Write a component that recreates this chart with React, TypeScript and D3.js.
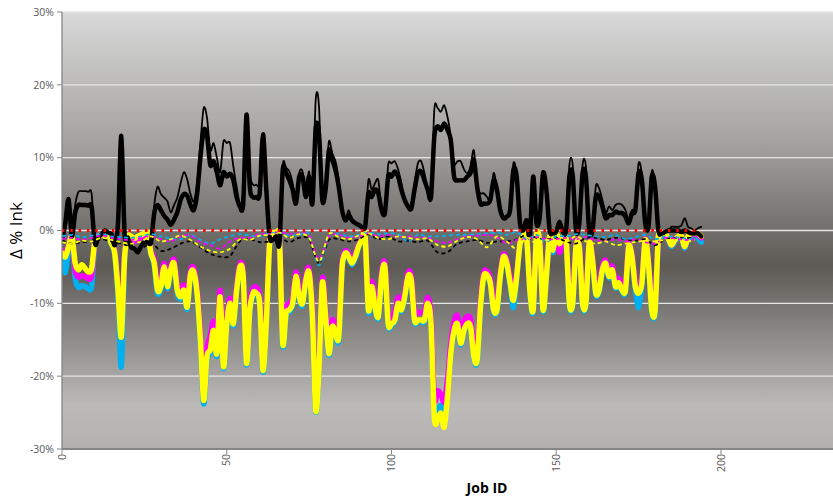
import * as d3 from 'd3'

// Δ % ink per job (values in %)
const blackThick = [
  -1.5, 1, 4.3, -0.8, 2.5, 3.5, 3.5, 3.5, 3.4, 3.2,
  -1.8, -1, -0.5, 0, -0.3, -0.5, -2, 1, 13, -0.5,
  -1, -2.3, -2.5, -3, -2.2, -1.6, -1.6, -1.6, 2.4, 3.5,
  2.8, 2, 1.5, 0.8, 1.5, 2.5, 4.2, 5, 4.8, 3.5,
  2.8, 5, 10, 13.8, 13, 9, 9.5, 8, 6.2, 8,
  7.4, 7.8, 6.9, 4.6, 3.3, 3.7, 15.9, 6, 4.6, 4.6,
  5.1, 13.2, 5.6, -0.8, -1.3, -0.8, -1.8, 8.3, 7.9, 6.9,
  5.6, 3.7, 7.4, 7.4, 4.6, 7.4, 3.7, 14, 13.3, 4.2,
  5.6, 11, 9.7, 8.3, 6, 2.8, 1.4, 2.1, 1.4, 1,
  0.8, 0.5, 0.5, 5.1, 4.6, 5.6, 5.1, 2.8, 2.4, 7.4,
  7.4, 8.1, 7.4, 5.6, 4.2, 3.3, 3, 5.6, 7.9, 8.1,
  6.9, 5.6, 4.6, 12.9, 14.3, 13.8, 14.7, 13.8, 12.4, 7.4,
  6.9, 6.9, 6.9, 7.4, 7.9, 9.7, 6, 3.7, 3.7, 3.7,
  4.2, 6.9, 5.6, 2.8, 1.7, 1.9, 2.8, 8.3, 7.4, 1,
  0, 1.4, -0.8, 7.4, 1, 1.9, 7.9, 5.6, 0, -0.4,
  -0.2, 1.2, -0.2, 0, 7.4, 7.6, 0, 1, 7.9, 7.4,
  0, 0, 4.6, 4.6, 3.3, 1.7, 2.1, 2.1, 2.6, 2.4,
  2.4, 1.9, 1, 2.4, 2.8, 7.9, 6.9, 1, 0.5, 7.4,
  6, 0, -0.4, -0.2, 0, 0, 0, 0, -0.2, 0,
  -0.2, -0.4, -0.4, -0.4, -0.8,
]

const blackThin = [
  -1.5, 1, 4.5, -0.8, 3.5, 5.3, 5.4, 5.4, 5.3, 5,
  -1.8, -1, -0.5, 0, -0.3, -0.5, -2, 1, 13, -0.5,
  -1, -2.3, -2.5, -3, -2.2, -1.6, -1.6, -1.6, 3.5, 6,
  5, 4.5, 4, 2.5, 3.5, 4.5, 6.5, 8, 7, 5,
  4, 6.5, 12, 16.8, 15.5, 11, 12, 10, 8, 12.2,
  12, 12, 8.8, 6, 3.7, 5.5, 15.9, 7.9, 6.3, 6.3,
  6.5, 13.2, 5.6, -0.8, -1.3, -0.8, -1.8, 8.9, 8.6, 8.1,
  6.5, 3.7, 7.9, 8.1, 5.1, 8.1, 4.2, 17.9, 17, 4.2,
  6, 12.2, 10.6, 9.5, 6.9, 2.8, 1.4, 2.8, 1.4, 1,
  0.8, 0.5, 0.5, 6.9, 5.6, 6.5, 6.9, 2.8, 2.4, 9,
  9.2, 9.5, 8.4, 6.5, 4.2, 3.3, 3, 6.5, 9.2, 9.5,
  7.9, 5.6, 4.6, 16.6, 16.8, 16.3, 17.2, 15.6, 12.9, 9.2,
  9.5, 9.5, 8.4, 7.9, 8.8, 11, 6, 5.1, 5.1, 4.6,
  4.2, 7.9, 5.6, 2.8, 1.7, 1.9, 2.8, 9.2, 7.4, 1,
  0, 1.4, -0.8, 7.4, 1, 1.9, 7.9, 5.6, 0, -0.4,
  -0.2, 1.2, -0.2, 0, 9, 9, 0, 1, 9, 8.8,
  0, 0, 6, 5.8, 4.2, 2.4, 3.3, 2.8, 3.5, 3.7,
  3.5, 2.8, 1.4, 2.8, 3.3, 9.2, 7.6, 1, 0.5, 8.1,
  6, 0, -0.4, -0.2, 0, 0.5, 0.5, 0.5, 0.7, 1.7,
  0.5, 0.3, 0, 0.3, 0.5,
]

const yellowThick = [
  -3.1, -3.6, -2.2, -0.8, -4.5, -5.4, -4.7, -5.2, -5.7, -5.2,
  -1.3, -0.8, -0.6, -0.4, -0.6, -1.8, -3.1, -8.2, -14.6, -3.6,
  -0.8, -0.8, -1.1, -0.8, -0.6, -0.4, -0.4, -3.1, -4.5, -8.2,
  -7.7, -5, -7.7, -5.4, -4.5, -8.2, -9.1, -8.2, -10.5, -6,
  -5.7, -8.6, -15, -23.3, -17.3, -16.4, -13.7, -16.9, -9.1, -18.7,
  -12.8, -10, -12.8, -8.2, -5, -6.3, -18.2, -10.9, -8.6, -8.6,
  -10, -19.2, -12.8, -1.8, -0.4, -0.4, -1.3, -15.5, -11.4, -10.9,
  -10, -6.3, -9.1, -10, -6.8, -5.8, -11.8, -24.7, -19, -7.2,
  -11.8, -16.9, -13.2, -14.1, -14.6, -5, -3.1, -3.6, -4.5, -3.6,
  -2.2, -1.3, -0.8, -10.9, -7.7, -10.5, -11.8, -6.3, -5, -12.8,
  -12.8, -12.3, -10, -10.9, -9.1, -6.3, -6.8, -12.3, -12.3, -12.3,
  -12.3, -10, -12.8, -25.6, -26, -25.1, -27, -22.8, -16.9, -13.7,
  -12.8, -15.5, -13.7, -12.8, -13.2, -17.3, -17.8, -10.5, -6.3, -6.1,
  -7.2, -10.9, -10.9, -6.3, -3.6, -4.5, -7.2, -9.6, -6.3, -1.8,
  -0.8, -0.8, -8.2, -10.9, -0.8, -1.8, -10.9, -6.3, -0.8, -2.7,
  -0.4, -1.8, -0.8, -1.3, -10, -10, -2.2, -2.2, -10, -10,
  -1.8, -4, -8.6, -8.2, -5.4, -4.5, -6.3, -5.4, -7.7, -7.2,
  -8.2, -8.2, -2.2, -3.6, -7.7, -8.6, -7.2, -1.3, -4.5, -10.9,
  -11, -0.8, -0.6, -0.4, -1.1, -2, -1.3, -0.8, -0.8, -2.2,
  -0.8, -0.4, -0.4, -0.4, -0.8,
]

const magentaThick = [
  -2.8, -3.3, -2, -0.8, -5.5, -6.4, -6.2, -6.3, -6.6, -6.2,
  -1.2, -0.8, -0.6, -0.4, -0.6, -1.6, -2.8, -7.5, -13.8, -3.3,
  -0.8, -1, -1.5, -1.3, -1, -0.8, -0.6, -2.8, -4, -7.5,
  -7, -4.5, -7, -5, -4, -7.5, -8.4, -7.5, -9.8, -5.5,
  -5.2, -8, -14, -22.5, -16, -14.5, -12.5, -15.5, -8.2, -17.5,
  -12, -9.3, -12, -7.5, -4.6, -5.8, -17.5, -10, -8, -7.8,
  -9.3, -18.5, -12, -1.6, -0.4, -0.4, -1.2, -14.5, -10.6, -10,
  -9.2, -5.7, -8.3, -9.2, -6.2, -5.3, -11, -23.8, -18, -6.6,
  -11, -15.5, -12.3, -13, -13.5, -4.5, -2.8, -3.2, -4, -3.2,
  -2, -1.2, -0.8, -10, -7, -9.5, -10.8, -5.7, -4.5, -11.8,
  -11.8, -11.2, -9.2, -10, -8.4, -5.8, -6.2, -11.3, -11.2, -11.3,
  -11.2, -9.2, -11.8, -23, -22, -22.5, -23.5, -20.5, -15.5, -12.5,
  -11.7, -14.2, -12.5, -11.8, -12.2, -16, -16.5, -9.6, -5.8, -5.6,
  -6.6, -10, -10, -5.8, -3.3, -4.1, -6.6, -8.8, -5.8, -1.7,
  -0.8, -0.8, -7.5, -10, -0.8, -1.7, -10, -5.8, -0.8, -2.5,
  -0.5, -3, -0.8, -1.3, -9, -9.2, -2, -2, -9, -9.2,
  -1.7, -3.7, -7.8, -7.4, -4.9, -4.1, -5.7, -4.9, -7, -6.6,
  -7.5, -7.5, -2, -3.3, -7, -7.8, -6.6, -1.2, -4.1, -10,
  -10, -0.8, -0.6, -0.4, -1.2, -2, -1.3, -0.9, -0.9, -2.2,
  -0.9, -0.5, -0.5, -0.6, -1,
]

const cyanThick = [
  -3.3, -5.8, -2.5, -0.9, -6.5, -7.8, -7.6, -7.7, -8, -7.6,
  -1.4, -0.9, -0.6, -0.4, -0.6, -1.9, -3.3, -9, -18.7, -4,
  -0.9, -0.9, -1.2, -0.9, -0.7, -0.5, -0.5, -3.2, -4.8, -8.6,
  -8, -5.2, -8, -5.6, -4.7, -8.6, -9.4, -8.5, -10.8, -6.2,
  -5.9, -8.9, -15.5, -23.8, -17.8, -16.8, -14, -17.2, -9.4, -18.9,
  -13.1, -10.3, -13.1, -8.5, -5.2, -6.5, -18.4, -11.2, -8.9, -8.9,
  -10.3, -19.4, -13, -1.9, -0.5, -0.5, -1.4, -15.7, -11.7, -11.2,
  -10.3, -6.5, -9.4, -10.3, -7, -6, -12.2, -24.8, -19.2, -7.5,
  -12.1, -17.1, -13.5, -14.4, -14.9, -5.2, -3.3, -3.8, -4.7, -3.8,
  -2.3, -1.4, -0.9, -11.2, -8, -10.8, -12, -6.5, -5.2, -13,
  -13, -12.5, -10.2, -11.1, -9.3, -6.5, -7, -12.5, -12.5, -12.5,
  -12.5, -10.2, -13, -24.5, -24.5, -24, -25, -22, -17.1, -13.9,
  -13, -15.7, -13.9, -13, -13.4, -17.5, -18, -10.7, -6.5, -6.3,
  -7.4, -11.1, -11.1, -6.5, -3.8, -4.7, -7.5, -10.6, -6.5, -1.9,
  -0.9, -0.9, -8.4, -11.1, -0.9, -1.9, -11.1, -6.5, -0.9, -3,
  -0.6, -2, -0.9, -1.4, -10.2, -10.2, -2.3, -2.3, -10.2, -10.2,
  -2, -4.2, -8.8, -8.4, -5.6, -4.7, -6.5, -5.6, -7.9, -7.4,
  -8.4, -8.4, -2.4, -3.8, -8, -10.6, -7.4, -1.4, -4.7, -11.1,
  -11.2, -1, -0.8, -0.6, -1.3, -2.2, -1.5, -1, -1, -2.4,
  -1, -0.6, -0.6, -1, -1.6,
]

// dashed series, read every third job (0, 3, 6 ... 192)
const cyanDash = [
  -0.8, -0.6, -0.9, -0.7, -0.5, -0.8, -0.9, -1, -0.8, -0.5, -0.8, -1.1, -1.2, -0.6, -1.3, -1.8, -1.2,
  -0.8, -0.5, -0.7, -0.8, -0.4, -0.3, -0.7, -0.6, -0.5, -4.8, -0.6, -0.5, -0.8, -0.6, -0.3, -0.5, -0.4,
  -0.5, -1.5, -0.6, -0.8, -0.8, -0.7, -0.6, -0.6, -0.5, -0.4, -0.3, -0.6, -0.2, -1.2, -0.6, -1.5, -0.8,
  -0.8, -0.5, -0.6, -0.8, -0.9, -0.6, -1.2, -0.9, -0.6, -1.2, -0.8, -0.9, -1.1, -1.2,
]
const magentaDash = [
  -1.2, -1, -1.3, -1, -0.7, -1, -1.2, -1.3, -1, -0.8, -1.2, -1.5, -0.8, -0.7, -1.6, -2, -2.5,
  -1.5, -1, -1, -0.5, -0.5, -0.2, -0.5, -0.4, -0.7, -4, -0.8, -0.6, -1, -0.8, -0.4, -0.8, -0.6,
  -0.9, -0.8, -1, -1, -1.5, -1.7, -1.2, -0.8, -0.7, -0.6, -0.9, -1.8, -1.3, -1.2, -0.9, -1.2, -1.2,
  -1, -1.2, -0.9, -1.3, -1.5, -1.2, -1.5, -1.2, -1.6, -1.8, -1, -1.1, -1.3, -1.2,
]
const yellowDash = [
  -1.6, -1.8, -1.4, -1.5, -1, -1.3, -1.6, -1.8, -1.5, -0.8, -1.5, -1.2, -0.7, -1.3, -2.2, -2.8, -3,
  -2.5, -1.2, -1.3, -0.7, -0.6, -0.3, -1, -0.5, -1, -4.3, -0.5, -0.9, -1.2, -0.7, -0.4, -1, -1.2,
  -0.8, -1, -1.2, -1.1, -2, -2.2, -1.4, -0.9, -1.2, -2.3, -0.8, -1.5, -2.5, -1, -1.8, -1.3, -1.5,
  -1.6, -0.8, -1.5, -1.8, -1.5, -2, -1.8, -1.6, -1.4, -1.5, -1.3, -1.4, -1.6, -1.3,
]
const blackDash = [
  -1.5, -1.8, -1.6, -1.5, -1.2, -1.5, -1.8, -2.2, -2.5, -1.7, -2.8, -2.5, -1.8, -1.5, -2.3, -3.2, -3.6,
  -3.5, -1.5, -1.2, -1.6, -1.5, -1, -1.6, -1, -1.2, -4.5, -1.3, -1.2, -1.5, -1.2, -0.5, -1.2, -0.8,
  -1.5, -1.4, -1.6, -1.4, -3, -3, -1.8, -1.5, -1.3, -1.7, -1.5, -1.5, -1.2, -0.6, -1, -1.2, -1,
  -1.5, -1.8, -1, -1, -1.3, -1, -1.2, -1.4, -1.2, -2, -1.2, -1, -1, -1,
]

const jobs = d3.range(blackThick.length)
const dashJobs = d3.range(0, 193, 3)
const yTicks = [-30, -20, -10, 0, 10, 20, 30]
const xTicks = [0, 50, 100, 150, 200]

const W = 833
const H = 496
const margin = { top: 12, right: 0, bottom: 47, left: 62 }

export default function App() {
  const w = W - margin.left - margin.right
  const h = H - margin.top - margin.bottom
  const x = d3.scaleLinear().domain([0, 234]).range([0, w])
  const y = d3.scaleLinear().domain([-30, 30]).range([h, 0])

  const line = (xs: number[], vs: number[]) =>
    d3.line<number>()
      .x((_, i) => x(xs[i]))
      .y(d => y(d))
      .curve(d3.curveCardinal.tension(0.1))(vs) || ''

  const thick = [
    { v: cyanThick, c: '#00b0f0' },
    { v: magentaThick, c: '#ff00ff' },
    { v: yellowThick, c: '#ffff00' },
  ]
  const dashed = [
    { v: blackDash, c: '#000000' },
    { v: cyanDash, c: '#00b0f0' },
    { v: magentaDash, c: '#ff00ff' },
    { v: yellowDash, c: '#ffff00' },
  ]
  const font = '"Open Sans", "Noto Sans", sans-serif'

  return (
    <svg width={W} height={H} style={{ position: 'absolute', left: 0, top: 0, background: '#fff' }}>
      <defs>
        <linearGradient id="bg" x1="0" y1="0" x2="0" y2="1">
          <stop offset="0" stopColor="#d9d9d9" />
          <stop offset="0.3" stopColor="#a3a2a0" />
          <stop offset="0.58" stopColor="#5d5a56" />
          <stop offset="0.9" stopColor="#bbbab8" />
          <stop offset="1" stopColor="#b2b1af" />
        </linearGradient>
        <clipPath id="plot">
          <rect x={0} y={0} width={w} height={h} />
        </clipPath>
      </defs>
      <g transform={`translate(${margin.left},${margin.top})`}>
        <rect x={0} y={0} width={w} height={h} fill="url(#bg)" />
        {yTicks.map(t => (
          <line key={t} x1={0} x2={w} y1={y(t)} y2={y(t)} stroke="#e6e6e6" strokeWidth={1.3} />
        ))}
        <g clipPath="url(#plot)" fill="none" strokeLinejoin="round" strokeLinecap="round">
          {thick.map(s => (
            <path key={s.c} d={line(jobs, s.v)} stroke={s.c} strokeWidth={5.5} />
          ))}
          <path d={line(jobs, blackThin)} stroke="#000" strokeWidth={1.8} />
          <path d={line(jobs, blackThick)} stroke="#000" strokeWidth={4.5} />
          {dashed.map(s => (
            <path key={s.c} d={line(dashJobs, s.v)} stroke={s.c} strokeWidth={1.8}
              strokeDasharray="4 3" strokeLinecap="butt" />
          ))}
          <line x1={x(0)} x2={x(jobs[jobs.length - 1])} y1={y(0)} y2={y(0)}
            stroke="#ff0000" strokeWidth={3} strokeDasharray="2.5 5.8" strokeLinecap="butt" />
        </g>
        {/* axes */}
        <line x1={0} x2={0} y1={0} y2={h} stroke="#868686" strokeWidth={1.3} />
        <line x1={0} x2={w} y1={h} y2={h} stroke="#868686" strokeWidth={2} />
        {yTicks.map(t => (
          <g key={t} transform={`translate(0,${y(t)})`}>
            <line x1={-5} x2={0} stroke="#868686" />
            <text x={-8} dy="0.35em" textAnchor="end" fontSize={10.5} fill="#595959" fontFamily={font}>
              {`${t}%`}
            </text>
          </g>
        ))}
        {xTicks.map(t => (
          <g key={t} transform={`translate(${x(t)},${h})`}>
            <line y1={0} y2={5} stroke="#868686" />
            <text transform="rotate(-90)" x={-5} dy="0.35em" textAnchor="end" fontSize={10.5}
              fill="#595959" fontFamily={font}>
              {t}
            </text>
          </g>
        ))}
      </g>
      <text x={487} y={493} textAnchor="middle" fontSize={14} fontWeight="bold" fill="#000" fontFamily={font}>
        Job ID
      </text>
      <text transform={`translate(22,${margin.top + h / 2}) rotate(-90)`} textAnchor="middle"
        fontSize={17} fill="#000" fontFamily={font}>
        Δ % Ink
      </text>
    </svg>
  )
}
